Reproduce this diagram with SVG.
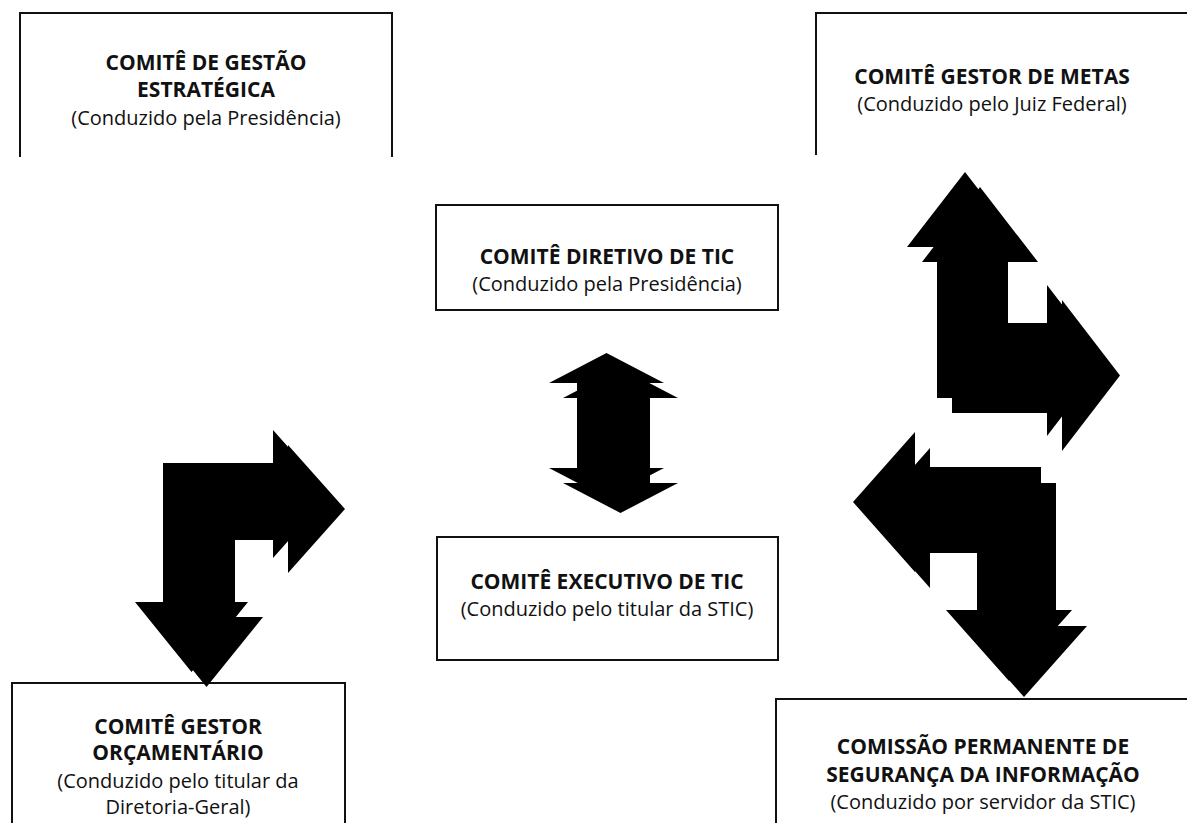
<svg xmlns="http://www.w3.org/2000/svg" width="1187" height="823" viewBox="0 0 1187 823">
  <style>
    .box { fill: #fff; stroke: #111; stroke-width: 2; }
    .open { fill: none; stroke: #111; stroke-width: 2; }
    .t { font-family: "Open Sans", "Noto Sans", "DejaVu Sans", sans-serif; font-size: 21px; font-weight: 700; fill: #111; text-anchor: middle; }
    .s { font-family: "Open Sans", "Noto Sans", "DejaVu Sans", sans-serif; font-size: 20px; font-weight: 400; fill: #111; text-anchor: middle; }
    .arrow { fill: #000; }
  </style>
  <defs>
    <path id="dbl" d="M606.5,353 L664,383 L636,383 L636,468 L664,468 L606.5,498 L549,468 L577,468 L577,383 L549,383 Z"/>
    <path id="bl" d="M163,463 H273 V430 L330,494 L273,558 V525 H220 V602 H248 L191.5,672 L135,602 H163 Z"/>
    <path id="tr" d="M937,398 V247 H907 L965,172 L1023,247 H993 V323 H1047 V285 L1105,360.5 L1047,436 V398 Z"/>
    <path id="br" d="M1041,467 V610 H1072 L1009,681 L946,610 H977 V537 H915 V572 L853,502 L915,432 V467 Z"/>
  </defs>

  <g id="node-gestao-estrategica">
    <path class="open" d="M20,157 V13 H392 V157"/>
    <text class="t" x="206" y="70">COMITÊ DE GESTÃO</text>
    <text class="t" x="206" y="97">ESTRATÉGICA</text>
    <text class="s" x="206" y="125">(Conduzido pela Presidência)</text>
  </g>

  <g id="node-gestor-metas">
    <path class="open" d="M816,155 V13 H1190"/>
    <text class="t" x="992" y="84">COMITÊ GESTOR DE METAS</text>
    <text class="s" x="992" y="111">(Conduzido pelo Juiz Federal)</text>
  </g>

  <g id="node-diretivo">
    <rect class="box" x="436" y="205" width="342" height="105"/>
    <text class="t" x="607" y="264">COMITÊ DIRETIVO DE TIC</text>
    <text class="s" x="607" y="291">(Conduzido pela Presidência)</text>
  </g>

  <g id="node-executivo">
    <rect class="box" x="437" y="537" width="341" height="123"/>
    <text class="t" x="607" y="589">COMITÊ EXECUTIVO DE TIC</text>
    <text class="s" x="607" y="616">(Conduzido pelo titular da STIC)</text>
  </g>

  <g id="node-orcamentario">
    <path class="open" d="M12,826 V683 H345 V826"/>
    <text class="t" x="178" y="734">COMITÊ GESTOR</text>
    <text class="t" x="178" y="760">ORÇAMENTÁRIO</text>
    <text class="s" x="178" y="788">(Conduzido pelo titular da</text>
    <text class="s" x="178" y="814">Diretoria-Geral)</text>
  </g>

  <g id="node-seguranca">
    <path class="open" d="M776,826 V699 H1190"/>
    <text class="t" x="983" y="754">COMISSÃO PERMANENTE DE</text>
    <text class="t" x="983" y="782">SEGURANÇA DA INFORMAÇÃO</text>
    <text class="s" x="983" y="809">(Conduzido por servidor da STIC)</text>
  </g>

  <g id="connectors">
    <g id="arrow-diretivo-executivo" class="arrow">
      <use href="#dbl"/>
      <use href="#dbl" transform="translate(14,15)"/>
    </g>
    <g id="arrow-orcamentario" class="arrow">
      <use href="#bl"/>
      <use href="#bl" transform="translate(15,15)"/>
    </g>
    <g id="arrow-metas" class="arrow">
      <use href="#tr"/>
      <use href="#tr" transform="translate(15,15)"/>
    </g>
    <g id="arrow-seguranca" class="arrow">
      <use href="#br"/>
      <use href="#br" transform="translate(15,16)"/>
    </g>
  </g>
</svg>
